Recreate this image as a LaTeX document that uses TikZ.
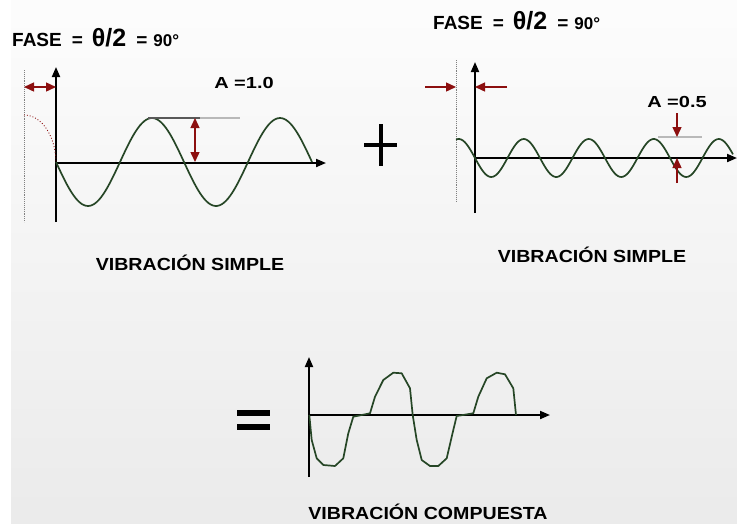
\documentclass[tikz,border=0pt]{standalone}
\usepackage{fontspec}
\setmainfont{Liberation Sans}
\usetikzlibrary{arrows.meta}
\definecolor{wavegreen}{RGB}{38,70,38}
\definecolor{darkred}{RGB}{140,15,15}
\newcommand{\fsz}[1]{\fontsize{#1}{#1}\selectfont}

\begin{document}
\begin{tikzpicture}[x=1pt,y=-1pt,
  axis/.style={line width=1.9pt,-{Triangle[length=10pt,width=8pt]}},
  wave/.style={wavegreen,line width=1.7pt,line join=round},
  redarr/.style={darkred,line width=1.4pt,-{Triangle[length=10pt,width=9pt]}},
  redboth/.style={darkred,line width=1.4pt,{Triangle[length=10pt,width=9pt]}-{Triangle[length=10pt,width=9pt]}},
  guide/.style={gray,densely dotted,line width=0.9pt},
  refline/.style={gray!55,line width=1.2pt},
  fase/.style={font=\bfseries\fsz{19},anchor=base west,inner sep=0pt},
  amp/.style={font=\bfseries\fsz{16},anchor=base,inner sep=0pt},
  lbl/.style={font=\bfseries\fsz{17.5},anchor=base,inner sep=0pt}]
\useasboundingbox (0,0) rectangle (737,523);
% background
\fill[white] (0,0) rectangle (737,523);
\shade[top color=white!99!black,bottom color=black!8] (11,0) rectangle (737,523);

% first simple vibration, A = 1.0
\coordinate (o1) at (56,163);
\draw[axis] (56,222) -- (56,67);
\draw[axis] (o1) -- (326,163);
\draw[guide] (24,70) -- (24,222);
\draw[redboth] (24,87) -- (56,87);
\draw[darkred,dotted,line width=0.9pt] plot[domain=0:90,samples=30] ({24+32*sin(\x)},{163-48*cos(\x)});
\draw[wave] plot[domain=56:312,samples=120] (\x,{162+44*sin(2.8125*(\x-56))});
\draw[gray!70!black,line width=1.2pt] (148,118) -- (200,118);
\draw[refline] (200,118) -- (240,118);
\draw[redboth] (195,118) -- (195,162);
\node[fase] (fase1) at (12,46) {FASE\hspace{10pt}=\hspace{9pt}{\fsz{25}θ/2}\hspace{10pt}=\hspace{6pt}{\fsz{17}90°}};
\node[amp] (amp1) at (244,88) {\scalebox{1.25}[1]{A =1.0}};
\node[lbl] (simple1) at (190,270) {\scalebox{1.12}[1]{VIBRACIÓN SIMPLE}};

% plus sign
\draw[line width=4pt] (364,145) -- (397,145);
\draw[line width=4pt] (381,124) -- (381,166);

% second simple vibration, A = 0.5
\coordinate (o2) at (475,158);
\draw[axis] (475,213) -- (475,62);
\draw[axis] (o2) -- (737,158);
\draw[guide] (456,60) -- (456,202);
\draw[redarr] (425,87) -- (456,87);
\draw[redarr] (507,87) -- (475,87);
\draw[wave] plot[domain=456:733,samples=160] (\x,{158+19*sin(5.5385*(\x-475))});
\draw[refline] (658,137) -- (702,137);
\draw[redarr] (677,113) -- (677,137);
\draw[redarr] (677,183) -- (677,158);
\node[fase] (fase2) at (433,29) {FASE\hspace{10pt}=\hspace{9pt}{\fsz{25}θ/2}\hspace{10pt}=\hspace{6pt}{\fsz{17}90°}};
\node[amp] (amp2) at (677,107) {\scalebox{1.25}[1]{A =0.5}};
\node[lbl] (simple2) at (592,262) {\scalebox{1.12}[1]{VIBRACIÓN SIMPLE}};

% equals sign
\fill (237,410) rectangle (270,416);
\fill (237,424) rectangle (270,430);

% compound vibration
\coordinate (o3) at (309,415);
\draw[axis] (309,477) -- (309,357);
\draw[axis] (o3) -- (550,415);
\draw[wave] (309.3,415) -- (311.7,440) -- (316.7,458.3) -- (323.3,465) -- (335,466)
  -- (343.3,458.3) -- (348.3,433.3) -- (353.3,416.7) -- (370,413.3) -- (375,396.7)
  -- (383.3,380) -- (393.3,372.7) -- (401.7,373.3) -- (410,388.3) -- (412.7,415)
  -- (416.7,440) -- (421.7,460) -- (430,466) -- (438.3,466) -- (446.7,458.3)
  -- (453.3,430) -- (456.7,416) -- (473.3,413.3) -- (478.3,396.7) -- (486.7,378.3)
  -- (496.7,372.7) -- (505,374.3) -- (513.3,388.3) -- (516,415);
\node[lbl] (compuesta) at (428,519) {\scalebox{1.12}[1]{VIBRACIÓN COMPUESTA}};
\end{tikzpicture}
\end{document}
